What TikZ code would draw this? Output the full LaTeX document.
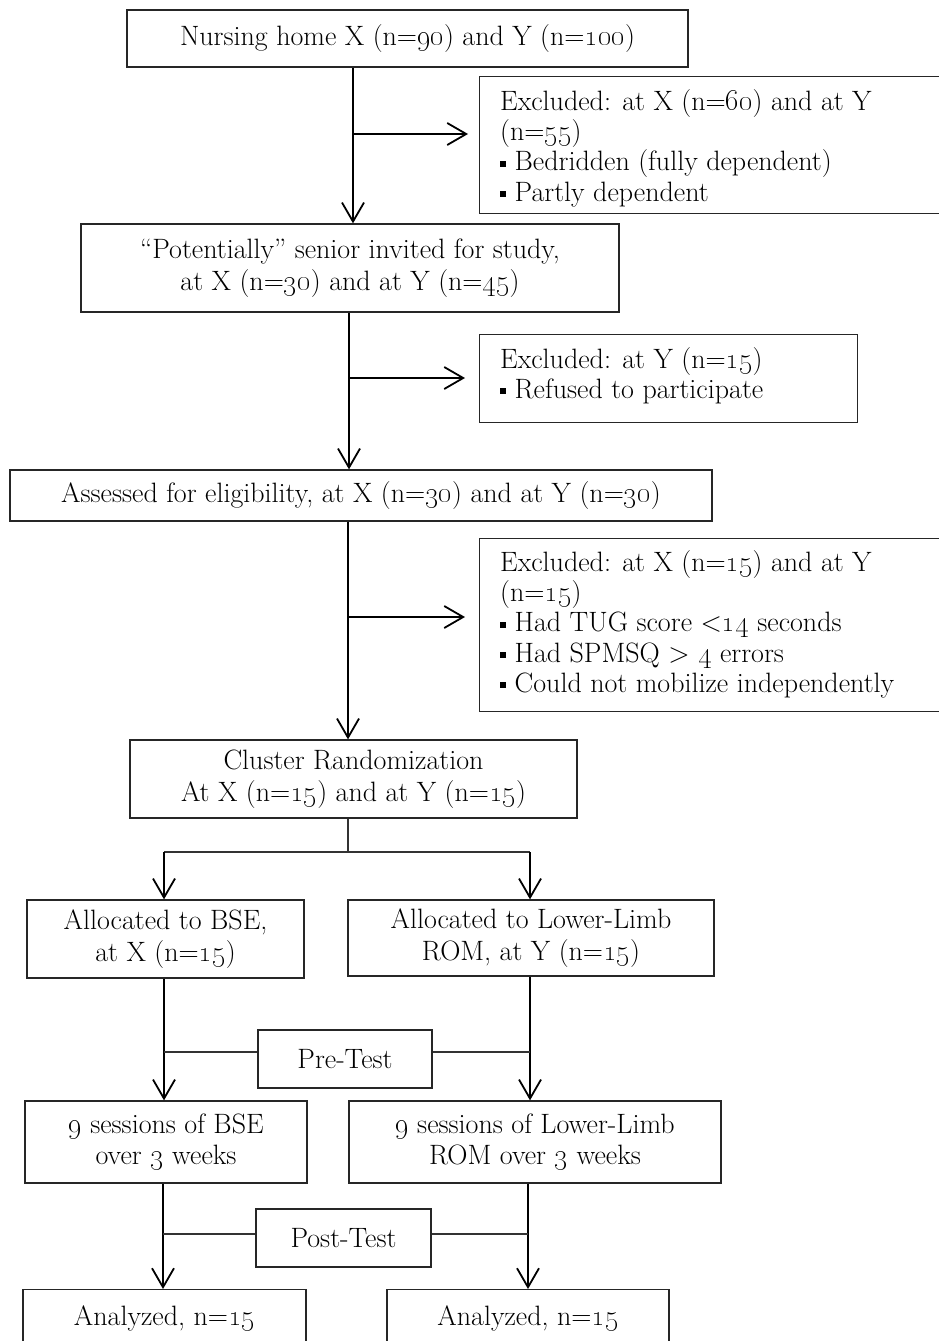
\documentclass[tikz,border=0pt]{standalone}
\usetikzlibrary{arrows.meta}
\newcommand\osn[1]{\oldstylenums{#1}}
\newcommand\sqb{\raisebox{4pt}{\rule{6pt}{6pt}}\ }
\begin{document}
\begin{tikzpicture}[x=1pt,y=-1pt,
  every node/.style={font=\fontsize{28}{31.5}\selectfont},
  box/.style={draw=black!85,line width=1.3pt,inner sep=0pt,align=center},
  exbox/.style={draw=black!85,line width=1.3pt,inner sep=0pt},
  extext/.style={anchor=north west,inner sep=0pt,align=left,font=\fontsize{28}{30.3}\selectfont},
  arr/.style={line width=1.8pt,-{Straight Barb[length=19pt,width=22pt,line width=1.8pt]}},
  thin/.style={line width=1.1pt,draw=black!80}]
\useasboundingbox (0,0) rectangle (939,1341);
\fill[white] (0,0) rectangle (939,1341);

% main column boxes
\node[box,minimum width=561pt,minimum height=57pt] (b1) at (407.5,38.5) {Nursing home X (n=\osn{90}) and Y (n=\osn{100})};
\node[box,minimum width=538pt,minimum height=88pt] (b2) at (350,268) {``Potentially'' senior invited for study,\\ at X (n=\osn{30}) and at Y (n=\osn{45})};
\node[box,minimum width=702pt,minimum height=51pt] (b3) at (361,495.5) {Assessed for eligibility, at X (n=\osn{30}) and at Y (n=\osn{30})};
\node[box,minimum width=447pt,minimum height=78pt] (b4) at (353.5,779) {Cluster Randomization\\ At X (n=\osn{15}) and at Y (n=\osn{15})};

% excluded boxes
\node[exbox,minimum width=470pt,minimum height=137pt,anchor=north west] (e1) at (479,76) {};
\node[extext] (t1) at (500,89) {Excluded: at X (n=\osn{60}) and at Y\\ (n=\osn{55})\\ \sqb Bedridden (fully dependent)\\ \sqb Partly dependent};
\node[exbox,minimum width=378pt,minimum height=88pt,anchor=north west] (e2) at (479,334) {};
\node[extext] (t2) at (500,347) {Excluded: at Y (n=\osn{15})\\ \sqb Refused to participate};
\node[exbox,minimum width=470pt,minimum height=173pt,anchor=north west] (e3) at (479,538) {};
\node[extext] (t3) at (500,550) {Excluded: at X (n=\osn{15}) and at Y\\ (n=\osn{15})\\ \sqb Had TUG score <\osn{14} seconds\\ \sqb Had SPMSQ > \osn{4} errors\\ \sqb Could not mobilize independently};

% branch boxes
\node[box,minimum width=277pt,minimum height=78pt] (l5) at (165.5,939) {Allocated to BSE,\\ at X (n=\osn{15})};
\node[box,minimum width=366pt,minimum height=76pt] (r5) at (531,938) {Allocated to Lower-Limb\\ ROM, at Y (n=\osn{15})};
\node[box,minimum width=174pt,minimum height=58pt] (pre) at (345,1059) {Pre-Test};
\node[box,minimum width=282pt,minimum height=82pt] (l6) at (166,1142) {\osn{9} sessions of BSE\\ over \osn{3} weeks};
\node[box,minimum width=372pt,minimum height=82pt] (r6) at (535,1142) {\osn{9} sessions of Lower-Limb\\ ROM over \osn{3} weeks};
\node[box,minimum width=175pt,minimum height=58pt] (post) at (343.5,1238) {Post-Test};
\node[box,minimum width=283pt,minimum height=70pt,anchor=north] (l7) at (164.5,1289) {};
\node[box,minimum width=282pt,minimum height=70pt,anchor=north] (r7) at (528,1289) {};
\node (tl7) at (164.5,1318) {Analyzed, n=\osn{15}};
\node (tr7) at (528,1318) {Analyzed, n=\osn{15}};

% helper coordinates
\coordinate (c1) at (353,134);
\coordinate (c2) at (349,378);
\coordinate (c3) at (348,617);
\coordinate (c4) at (348,852);
\coordinate (cl) at (164,852);
\coordinate (cr) at (530,852);
\coordinate (pl) at (164,1052);
\coordinate (pr) at (530,1052);
\coordinate (ql) at (163,1234);
\coordinate (qr) at (528,1234);

% connectors
\draw[arr] (b1.south -| c1) -- (b2.north -| c1);
\draw[arr,shorten >=11pt] (c1) -- (c1 -| e1.west);
\draw[arr] (b2.south -| c2) -- (b3.north -| c2);
\draw[arr,shorten >=14pt] (c2) -- (c2 -| e2.west);
\draw[arr] (b3.south -| c3) -- (b4.north -| c3);
\draw[arr,shorten >=14pt] (c3) -- (c3 -| e3.west);
\draw[thin] (b4.south -| c4) -- (c4);
\draw[thin] (cl) -- (cr);
\draw[arr] (cl) -- (l5.north -| cl);
\draw[arr] (cr) -- (r5.north -| cr);
\draw[arr] (l5.south -| pl) -- (l6.north -| pl);
\draw[arr] (r5.south -| pr) -- (r6.north -| pr);
\draw[thin] (pl) -- (pl -| pre.west);
\draw[thin] (pre.east |- pr) -- (pr);
\draw[arr] (l6.south -| ql) -- (l7.north -| ql);
\draw[arr] (r6.south -| qr) -- (r7.north -| qr);
\draw[thin] (ql) -- (ql -| post.west);
\draw[thin] (post.east |- qr) -- (qr);
\end{tikzpicture}
\end{document}
